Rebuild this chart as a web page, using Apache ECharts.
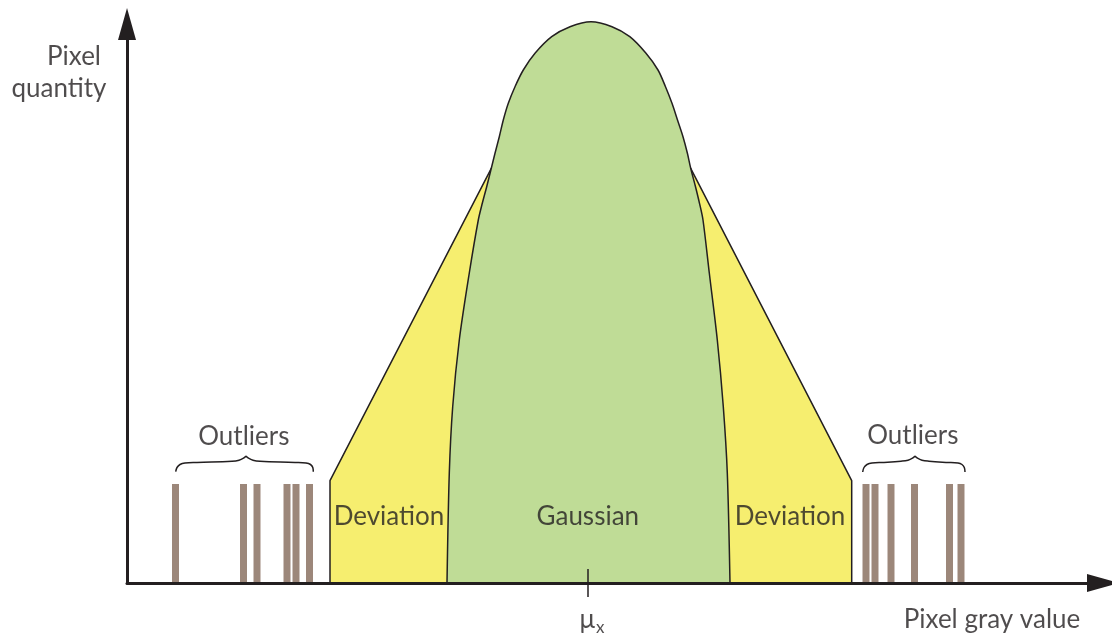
<!DOCTYPE html>
<html><head><meta charset="utf-8">
<script src="https://cdn.jsdelivr.net/npm/echarts@6/dist/echarts.min.js"></script>
<style>html,body{margin:0;padding:0;background:#fff}#c{width:1112px;height:636px}</style>
</head><body><div id="c"></div>
<script>
// Gaussian core (schematic): gray value vs pixel quantity
const gaussianX = [320, 322.3, 325.7, 332.3, 342.3, 351.3, 355.3, 359.7, 364.3, 368, 372.3, 376.3, 381.3, 388, 396.3, 408, 424.7, 443, 464,
                   485, 502.8, 519, 531, 538.5, 545, 550.5, 556, 560.4, 563.7, 568.5, 572.5, 576, 582.3, 590.3, 596.3, 600.3, 603];
const gaussianY = [0, 110, 176.3, 243, 310, 363, 379.7, 396.3, 414.7, 429.7, 446.3, 463, 479.7, 496.3, 513, 529.7, 546.3, 556.3, 561.3,
                   556.3, 546.3, 529.7, 513, 496.3, 479.7, 463, 446.3, 429.7, 414.7, 396.3, 379.7, 363, 310, 243, 176.3, 110, 0];
// Deviation envelope
const deviationX = [203, 203, 364.3, 563.7, 724.7, 724.7];
const deviationY = [0, 102.3, 414.7, 414.7, 102.3, 0];
// Outlier bars
const outlierLeftX = [48.5, 116.5, 130, 160, 169, 182.5];
const outlierRightX = [739, 748, 764, 787.5, 822.5, 834];
const outlierHeight = 99;
// Braces above outlier groups (tip index splits halves)
const braceLeftX = [48.7, 50, 53, 58, 70, 105, 112, 116.5, 119, 121.5, 126, 133, 168, 179, 183.5, 185.8, 186.3];
const braceLeftY = [111.3, 115.5, 118.5, 120, 120.6, 121.8, 122.8, 124.8, 127, 124.8, 122.8, 121.8, 120.6, 120, 118.5, 115.5, 111.3];
const braceRightX = [735.7, 737, 740, 745, 757, 774, 781, 785.5, 788, 790.5, 795, 802, 819, 831, 835, 837.3, 838];
const braceRightY = [111, 115.5, 118.5, 120, 120.6, 121.8, 122.8, 124.8, 127, 124.8, 122.8, 121.8, 120.6, 120, 118.5, 115.5, 111];
const braceTipIndex = 8;
// Mean marker
const meanX = 461;
// Text labels
const labelTexts = ['Outliers', 'Outliers', 'Deviation', 'Deviation', 'Gaussian', 'Pixel', 'quantity', 'Pixel gray value'];
const labelX = [116.8, 785.8, 262, 663, 460.8, -53, -68, 865];
const labelY = [146, 147.5, 66, 66, 66, 526, 494, -37];

const INK = '#231f20';
const FONT = 'Lato';
const FS = 26;

function pairs(xs, ys) { return xs.map((x, i) => [x, ys[i]]); }

const chart = echarts.init(document.getElementById('c'), null, { renderer: 'canvas' });

const braceSeries = [];
[[braceLeftX, braceLeftY], [braceRightX, braceRightY]].forEach(([bx, by]) => {
  const pts = pairs(bx, by);
  [pts.slice(0, braceTipIndex + 1), pts.slice(braceTipIndex)].forEach(half => {
    braceSeries.push({
      type: 'line', data: half, smooth: 0.4, symbol: 'none', clip: false, silent: true,
      lineStyle: { color: INK, width: 1.5 }, z: 5
    });
  });
});

chart.setOption({
  animation: false,
  backgroundColor: '#fff',
  grid: { left: 127, right: 9, top: 24, bottom: 53, containLabel: false },
  xAxis: {
    type: 'value', min: 0, max: 976, z: 10,
    axisLine: { show: true, lineStyle: { color: INK, width: 3 }, symbol: ['none', 'triangle'], symbolSize: [18, 32] },
    axisTick: { show: false }, axisLabel: { show: false }, splitLine: { show: false }
  },
  yAxis: {
    type: 'value', min: 0, max: 559, z: 10,
    axisLine: { show: true, lineStyle: { color: INK, width: 3 }, symbol: ['none', 'triangle'], symbolSize: [18, 32] },
    axisTick: { show: false }, axisLabel: { show: false }, splitLine: { show: false }
  },
  series: [
    {
      type: 'line', name: 'Deviation', data: pairs(deviationX, deviationY), symbol: 'none', clip: false,
      lineStyle: { color: INK, width: 1.5 }, areaStyle: { color: '#f6ee6f', opacity: 1 }, z: 2
    },
    {
      type: 'line', name: 'Gaussian', data: pairs(gaussianX, gaussianY), smooth: 0.3, symbol: 'none', clip: false,
      lineStyle: { color: INK, width: 1.5 }, areaStyle: { color: '#bfdc96', opacity: 1 }, z: 3
    },
    {
      type: 'bar', name: 'Outliers', barWidth: 7,
      data: outlierLeftX.concat(outlierRightX).map(x => [x, outlierHeight]),
      itemStyle: { color: '#9c877a' }, z: 4
    },
    {
      type: 'line', name: 'mean tick', data: [[meanX, 14], [meanX, -14]], symbol: 'none', clip: false,
      lineStyle: { color: INK, width: 1.5 }, z: 11
    },
    {
      type: 'scatter', name: 'mu', symbolSize: 0, clip: false, z: 12,
      data: [[meanX + 4, -37]],
      label: {
        show: true, position: 'inside', formatter: '{m|μ}{s|x}',
        rich: {
          m: { fontFamily: FONT, fontSize: 26, color: INK },
          s: { fontFamily: FONT, fontSize: 17, color: INK, padding: [16, 0, 0, 1] }
        }
      }
    },
    {
      type: 'scatter', name: 'labels', symbolSize: 0, clip: false, z: 12,
      data: labelTexts.map((t, i) => ({ name: t, value: [labelX[i], labelY[i]] })),
      label: { show: true, position: 'inside', formatter: '{b}', fontFamily: FONT, fontSize: FS, color: INK }
    }
  ].concat(braceSeries)
});
</script>
</body></html>
